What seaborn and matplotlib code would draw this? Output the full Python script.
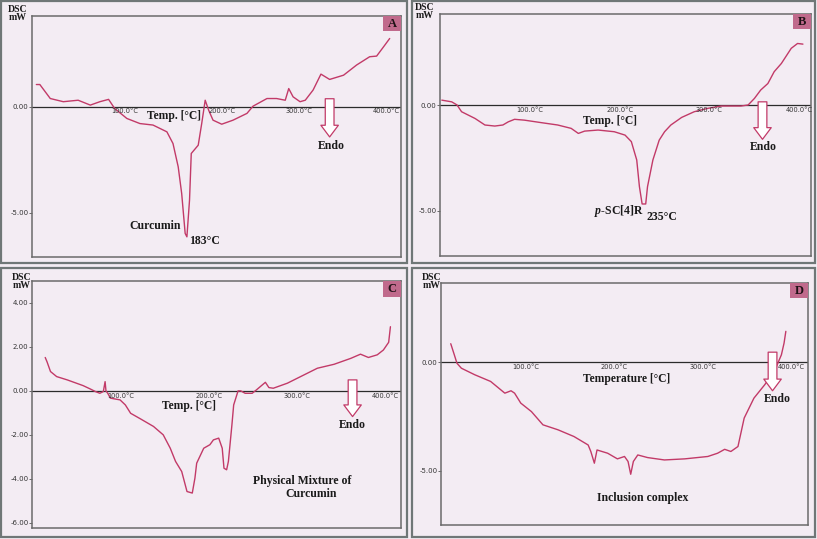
import numpy as np
import pandas as pd
import seaborn as sns
import matplotlib.pyplot as plt
from matplotlib.patches import Rectangle

# DSC thermograms, temperature in degC and heat flow in mW
temp_a = [12, 16, 28, 43, 60, 74, 85, 95, 102, 116, 131, 146, 162, 169, 175, 179, 183, 185, 188, 190,
          198, 202, 206, 210, 215, 225, 238, 254, 261, 277, 288, 298, 302, 307, 315, 321, 330, 339,
          349, 365, 380, 395, 403, 411, 418]
dsc_a = [1.05, 1.05, 0.39, 0.24, 0.31, 0.08, 0.24, 0.35, -0.08, -0.55, -0.79, -0.86, -1.18, -1.73,
         -2.83, -4.09, -5.97, -6.13, -4.40, -2.20, -1.81, -0.79, 0.31, -0.16, -0.63, -0.82, -0.63,
         -0.31, 0.03, 0.39, 0.39, 0.31, 0.86, 0.47, 0.24, 0.31, 0.79, 1.54, 1.29, 1.49, 1.97, 2.36,
         2.39, 2.83, 3.22]

temp_b = [15, 26, 32, 37, 52, 63, 74, 83, 89, 96, 107, 126, 144, 159, 167, 174, 189, 207, 219, 226,
          232, 235, 238, 242, 244, 250, 257, 263, 270, 282, 296, 311, 326, 348, 356, 363, 370, 378,
          385, 393, 404, 411, 417]
dsc_b = [0.25, 0.17, 0.02, -0.30, -0.62, -0.93, -0.98, -0.93, -0.78, -0.66, -0.70, -0.82, -0.93,
         -1.09, -1.33, -1.22, -1.17, -1.25, -1.41, -1.72, -2.59, -3.86, -4.68, -4.68, -3.86, -2.59,
         -1.65, -1.25, -0.93, -0.57, -0.30, -0.14, -0.03, -0.03, 0.02, 0.33, 0.73, 1.04, 1.60, 1.99,
         2.71, 2.94, 2.91]

temp_c = [27, 29, 33, 40, 52, 70, 78, 84, 89, 93, 95, 96, 98, 101, 112, 118, 124, 135, 150, 161,
          169, 175, 182, 188, 194, 197, 199, 207, 214, 218, 224, 228, 230, 233, 235, 239, 241, 246,
          249, 254, 262, 267, 277, 281, 286, 302, 317, 336, 355, 374, 385, 394, 404, 411, 417, 419]
dsc_c = [1.52, 1.33, 0.88, 0.65, 0.50, 0.24, 0.09, -0.03, -0.11, -0.03, 0.42, 0.0, -0.11, -0.33,
         -0.41, -0.64, -1.02, -1.27, -1.62, -2.00, -2.61, -3.21, -3.67, -4.58, -4.65, -3.97, -3.29,
         -2.61, -2.45, -2.23, -2.15, -2.61, -3.52, -3.59, -3.21, -1.55, -0.64, 0.0, 0.0, -0.11,
         -0.11, 0.05, 0.39, 0.15, 0.12, 0.35, 0.65, 1.03, 1.21, 1.48, 1.67, 1.52, 1.64, 1.86, 2.21,
         2.92]

temp_d = [29, 33, 36, 41, 56, 74, 90, 97, 101, 108, 120, 133, 150, 168, 184, 187, 191, 194, 206,
          217, 225, 229, 232, 235, 240, 251, 270, 293, 319, 330, 338, 345, 353, 360, 371, 383, 394,
          402, 405, 407]
dsc_d = [0.85, 0.34, -0.05, -0.28, -0.58, -0.89, -1.43, -1.32, -1.43, -1.89, -2.28, -2.89, -3.12,
         -3.43, -3.82, -4.12, -4.66, -4.05, -4.20, -4.46, -4.35, -4.58, -5.17, -4.58, -4.28, -4.40,
         -4.51, -4.46, -4.35, -4.20, -4.02, -4.12, -3.89, -2.58, -1.66, -1.05, -0.43, 0.34, 0.88,
         1.42]

xtick_temps = [100, 200, 300, 400]

sns.set_theme(style='white')
plt.rcParams['font.family'] = ['DejaVu Sans']
# italic "p" in p-SC[4]R drawn in the same serif face as the other notes
plt.rcParams['mathtext.fontset'] = 'custom'
plt.rcParams['mathtext.it'] = 'Liberation Serif:italic:bold'
plt.rcParams['mathtext.rm'] = 'Liberation Serif:bold'

W, H = 817, 539
bg = '#f3ecf3'
line_col = '#c23a68'
serif = 'Liberation Serif'

fig = plt.figure(figsize=(W / 100, H / 100), dpi=100, facecolor=bg)


def px_axes(l, t, r, b):
    return fig.add_axes([l / W, 1 - b / H, (r - l) / W, (b - t) / H])


def panel_border(l, t, r, b):
    fig.patches.append(Rectangle((l / W, 1 - b / H), (r - l) / W, (b - t) / H,
                                 transform=fig.transFigure, fill=False,
                                 edgecolor='#6f7777', lw=1.6))


def draw_panel(ax, temps, vals, xlim, ylim, yticks, letter, xlabel, xlabel_pos,
               arrow, endo_pos, notes, tick_shift=None):
    tick_shift = tick_shift or {}
    df = pd.DataFrame({'T': temps, 'mW': vals})
    ax.set_facecolor(bg)
    sns.lineplot(data=df, x='T', y='mW', ax=ax, color=line_col, lw=1.0,
                 estimator=None, sort=False)
    ax.set_xlim(*xlim)
    ax.set_ylim(*ylim)
    ax.axhline(0, color='#2b2b2b', lw=0.9, zorder=1)
    ax.set_xticks([])
    ax.set_yticks(yticks)
    ax.set_yticklabels(['%.2f' % v for v in yticks], fontsize=5, color='#333333')
    ax.tick_params(axis='y', length=2, width=0.6, pad=0.5, left=True, color='#555555')
    ax.set_xlabel('')
    ax.set_ylabel('')
    for s in ax.spines.values():
        s.set_color('#6a6a6a')
        s.set_linewidth(1.1)
    for t in xtick_temps:
        ax.text(t - 2 + tick_shift.get(t, 0), -0.08, '%.1f°C' % t, ha='left', va='top',
                fontsize=4.8, color='#333333')
    ax.text(xlabel_pos[0], xlabel_pos[1], xlabel, ha='left', va='center',
            fontsize=8.3, fontweight='bold', family=serif, color='#1a1a1a')
    # hollow "Endo" arrow
    ax.annotate('', xy=(arrow[0], arrow[2]), xytext=(arrow[0], arrow[1]),
                arrowprops=dict(arrowstyle='simple,head_width=0.9,head_length=0.6,tail_width=0.45',
                                fc='white', ec=line_col, lw=0.9, shrinkA=0, shrinkB=0,
                                mutation_scale=14))
    ax.text(endo_pos[0], endo_pos[1], 'Endo', ha='center', va='center', fontsize=8.5,
            fontweight='bold', family=serif, color='#1a1a1a')
    for x, y, s in notes:
        ax.text(x, y, s, ha='center', va='center', fontsize=8.5, fontweight='bold',
                family=serif, color='#1a1a1a')
    # letter badge in the top right corner
    ax.add_patch(Rectangle((0.951, 0.937), 0.049, 0.063, transform=ax.transAxes,
                           facecolor='#c06a8c', edgecolor='none', zorder=4))
    ax.text(0.9755, 0.968, letter, transform=ax.transAxes, ha='center', va='center',
            fontsize=9, fontweight='bold', family=serif, color='#1f1216', zorder=5)


def dsc_label(xr, y_dsc, y_mw):
    fig.text(xr / W, 1 - y_dsc / H, 'DSC', ha='right', va='center', fontsize=7,
             fontweight='bold', family=serif, color='#1a1a1a')
    fig.text(xr / W, 1 - y_mw / H, 'mW', ha='right', va='center', fontsize=7,
             fontweight='bold', family=serif, color='#1a1a1a')


panel_border(1, 1, 407, 263)
panel_border(412, 1, 815, 263)
panel_border(1, 268, 407, 537)
panel_border(412, 268, 815, 537)

ax_a = px_axes(32, 16, 401, 257)
draw_panel(ax_a, temp_a, dsc_a, (7, 431), (-7.08, 4.28), [0, -5], 'A', 'Temp. [°C]',
           (139, -0.42), (349, 0.38, -1.42), (351, -1.86),
           [(148, -5.61, 'Curcumin'), (205, -6.32, '183°C')], tick_shift={200: 12})

ax_b = px_axes(440, 14, 811, 256)
draw_panel(ax_b, temp_b, dsc_b, (13, 426), (-7.15, 4.34), [0, -5], 'B', 'Temp. [°C]',
           (172, -0.72), (372, 0.17, -1.61), (373, -1.96),
           [(212, -5.0, r'$\it{p}$-SC[4]R'), (260, -5.32, '235°C')])

ax_c = px_axes(32, 281, 401, 528)
draw_panel(ax_c, temp_c, dsc_c, (12, 431), (-6.24, 5.0), [4, 2, 0, -2, -4, -6], 'C',
           'Temp. [°C]', (160, -0.68), (376, 0.5, -1.17), (376, -1.56),
           [(319, -4.08, 'Physical Mixture of'), (329, -4.71, 'Curcumin')])

ax_d = px_axes(441, 283, 808, 525)
draw_panel(ax_d, temp_d, dsc_d, (18, 432), (-7.51, 3.65), [0, -5], 'D',
           'Temperature [°C]', (178, -0.8), (392, 0.46, -1.32), (397, -1.71),
           [(246, -6.28, 'Inclusion complex')])

dsc_label(27, 9, 17)
dsc_label(434, 8, 16)
dsc_label(31, 277, 285)
dsc_label(441, 278, 286)

fig.savefig('out.png', dpi=100, facecolor=bg)
